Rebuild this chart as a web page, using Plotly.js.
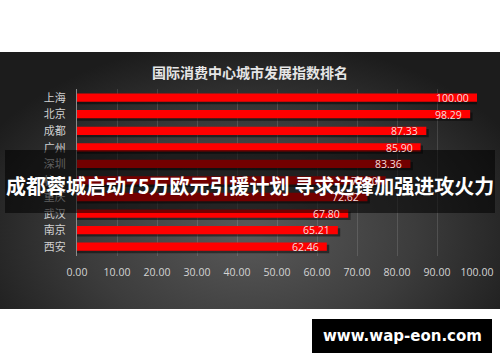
<!DOCTYPE html>
<html><head><meta charset="utf-8">
<script src="https://cdn.plot.ly/plotly-3.0.1.min.js"></script>
<style>
html,body{margin:0;padding:0;background:#fff;width:500px;height:362px;overflow:hidden;}
#bg{position:absolute;left:0;top:52px;width:500px;height:257px;
background:radial-gradient(ellipse 60% 75% at 50% 70%, #5a5a5a 0%, #3c3c3c 55%, #1c1c1c 100%);}
#chart{position:absolute;left:0;top:0;width:500px;height:362px;}
</style></head><body>
<div id="bg"></div>
<div id="chart"></div>
<script>
var cities = ["上海","北京","成都","广州","深圳","杭州","重庆","武汉","南京","西安"];
var values = [100.00, 98.29, 87.33, 85.90, 83.36, 77.20, 72.62, 67.80, 65.21, 62.46];
var xTicks = [0,10,20,30,40,50,60,70,80,90,100];
var chartTitle = "国际消费中心城市发展指数排名";
var bannerText = "成都蓉城启动75万欧元引援计划 寻求边锋加强进攻火力";
var siteText = "www.wap-eon.com";

var W=500,H=362,ml=77,mr=23,mt=89,mb=106;
function px(x){return (x-ml)/(W-ml-mr);}
function py(y){return (H-mb-y)/(H-mt-mb);}
var cjk = "'Noto Sans CJK SC', 'Noto Sans', sans-serif";

var shadow = {type:'bar', orientation:'h', y:cities, x:values.map(function(v){return v+0.6;}),
  width:0.5, offset:-0.13, marker:{color:'rgba(0,0,0,0.45)'}, hoverinfo:'skip', showlegend:false};
var bars = {type:'bar', orientation:'h', y:cities, x:values,
  width:0.5, offset:-0.27, marker:{color:'#ff0000'}, textposition:'none', showlegend:false};

var ann = values.map(function(v,i){
  return {x:v, y:cities[i], xref:'x', yref:'y', text:v.toFixed(2), showarrow:false,
    xanchor:'right', yanchor:'middle', xshift:-6, yshift:0,
    font:{family:"'Open Sans', 'DejaVu Sans', sans-serif", size:10.5, color:'#f3dede'}};
});
ann.push({xref:'paper', yref:'paper', x:px(250), y:py(185), text:'<b>'+bannerText+'</b>', showarrow:false,
  xanchor:'center', yanchor:'middle', font:{family:cjk, size:20, color:'#ffffff'}});
ann.push({xref:'paper', yref:'paper', x:px(402), y:py(336), text:'<b>'+siteText+'</b>', showarrow:false,
  xanchor:'center', yanchor:'middle', font:{family:"'DejaVu Sans', sans-serif", size:15, color:'#ffffff'}});

var layout = {
  width:W, height:H, margin:{l:ml, r:mr, t:mt, b:mb, pad:0},
  paper_bgcolor:'rgba(0,0,0,0)', plot_bgcolor:'rgba(0,0,0,0)',
  barmode:'overlay',
  title:{text:'<b>'+chartTitle+'</b>', xref:'container', x:0.5, xanchor:'center',
    yref:'container', y:1-73/H, yanchor:'middle', font:{family:cjk, size:14, color:'#e6e6e6'}},
  xaxis:{range:[0,100], tickvals:xTicks, ticktext:xTicks.map(function(t){return t.toFixed(2);}),
    showgrid:true, gridcolor:'rgba(255,255,255,0.13)', gridwidth:1, zeroline:false, showline:false,
    ticks:'', ticklabelstandoff:8, tickfont:{family:"'Open Sans', 'DejaVu Sans', sans-serif", size:10.5, color:'#d4d4d4'},
    fixedrange:true},
  yaxis:{type:'category', autorange:'reversed', showgrid:false, zeroline:false,
    showline:true, linecolor:'#8a8a8a', linewidth:1, ticks:'', ticklabelstandoff:8,
    tickfont:{family:cjk, size:11, color:'#d0d0d0'}, fixedrange:true},
  shapes:[
    {type:'rect', xref:'paper', yref:'paper', x0:px(5), x1:px(495), y0:py(150), y1:py(213),
      fillcolor:'rgba(0,0,0,0.55)', line:{width:0}, layer:'above'},
    {type:'rect', xref:'paper', yref:'paper', x0:px(312), x1:px(492), y0:py(319), y1:py(353),
      fillcolor:'#000000', line:{width:0}, layer:'above'}
  ],
  annotations:ann
};
Plotly.newPlot('chart',[shadow,bars],layout,{displayModeBar:false, staticPlot:true});
</script>
</body></html>
